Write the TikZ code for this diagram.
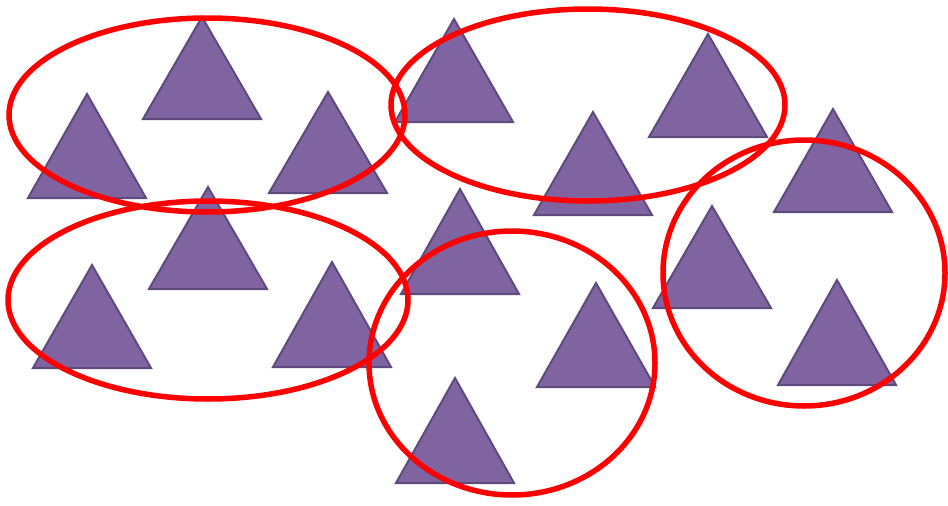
\documentclass[tikz,border=0pt]{standalone}
\begin{document}
\begin{tikzpicture}[x=1pt,y=-1pt,
  tri/.style={fill={rgb,255:red,128;green,100;blue,162},draw={rgb,255:red,93;green,75;blue,125},line width=2pt,line join=miter},
  ring/.style={draw={rgb,255:red,255;green,0;blue,0},line width=5.5pt}]
\useasboundingbox (0,0) rectangle (948,506);
\foreach \x/\y/\b in {202/17/119, 87/94/198, 328/92/193, 454/19/122, 708/34/137, 593/112/215, 833/109/212, 208/187/289, 92/265/368, 332/262/367, 460/189/294, 596/283/387, 712/206/308, 837/280/385, 455/378/483}{
  \draw[tri] (\x,\y) -- (\x-59,\b) -- (\x+59,\b) -- cycle;
}
\draw[ring] (207,115) ellipse [x radius=198, y radius=97];
\draw[ring] (588,105) ellipse [x radius=197, y radius=96];
\draw[ring] (208,300) ellipse [x radius=200, y radius=99];
\draw[ring] (512,363) ellipse [x radius=143, y radius=132];
\draw[ring] (804,273) ellipse [x radius=141, y radius=133];
\end{tikzpicture}
\end{document}
